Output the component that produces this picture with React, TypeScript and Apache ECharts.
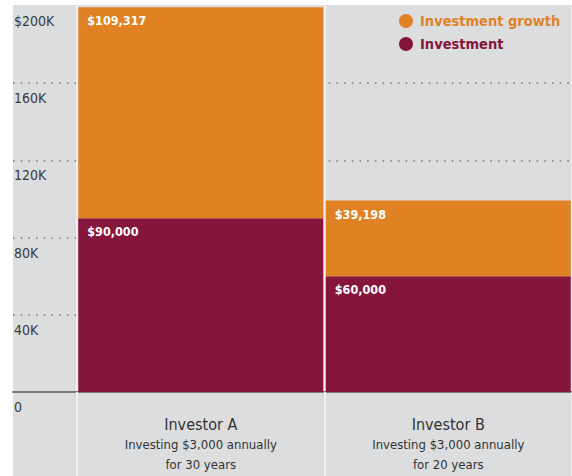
import React, { useEffect, useRef } from "react";
import * as echarts from "echarts";

const categories = ["Investor A", "Investor B"];
const subtitles = [
  ["Investing $3,000 annually", "for 30 years"],
  ["Investing $3,000 annually", "for 20 years"],
];
const investment = [90000, 60000];
const growth = [109317, 39198];
const yTickLabels: Record<number, string> = {
  0: "0",
  40000: "40K",
  80000: "80K",
  120000: "120K",
  160000: "160K",
  200000: "$200K",
};

const FONT = "'Liberation Sans Narrow', 'DejaVu Sans Condensed', 'Roboto', sans-serif";
const ORANGE = "#E08224";
const MAROON = "#85153B";
const BG = "#DCDDDF";

export default function App() {
  const ref = useRef<HTMLDivElement>(null);
  useEffect(() => {
    if (!ref.current) return;
    const chart = echarts.init(ref.current, undefined, { renderer: "svg" });
    const fmtMoney = (v: number) => "$" + v.toLocaleString("en-US");
    const barLabel = {
      show: true,
      position: [9, 7],
      verticalAlign: "top",
      color: "#fff",
      fontFamily: FONT,
      fontWeight: "bold",
      fontSize: 12.5,
      formatter: (p: any) => fmtMoney(p.value),
    };
    chart.setOption({
      animation: false,
      textStyle: { fontFamily: FONT },
      graphic: [
        {
          type: "rect",
          z: -100,
          shape: { x: 13, y: 5, width: 559, height: 471 },
          style: { fill: BG },
          silent: true,
        },
      ],
      legend: {
        orient: "vertical",
        left: 399,
        top: 13,
        padding: 0,
        itemWidth: 14,
        itemHeight: 14,
        itemGap: 7,
        icon: "circle",
        textStyle: { fontFamily: FONT, fontSize: 14.5, fontWeight: "bold", lineHeight: 16, padding: [0, 0, 0, 2] },
        data: [
          { name: "Investment growth", textStyle: { color: ORANGE } },
          { name: "Investment", textStyle: { color: MAROON } },
        ],
      },
      grid: [
        { left: 13, right: 0, top: 6, bottom: 84 },
        { left: 77, right: 0, top: 6, bottom: 84 },
      ],
      xAxis: [
        {
          gridIndex: 0,
          type: "value",
          min: 0,
          max: 1,
          axisLine: { show: true, onZero: false, lineStyle: { color: "#7a7a7a", width: 2 } },
          axisTick: { show: false },
          axisLabel: { show: false },
          splitLine: { show: false },
        },
        {
          gridIndex: 1,
          type: "category",
          data: categories,
          axisLine: { show: false },
          axisTick: { show: true, length: 84, lineStyle: { color: "#EEEEEE", width: 2 } },
          splitLine: { show: true, lineStyle: { color: "#EEEEEE", width: 2 } },
          axisLabel: {
            margin: 22,
            interval: 0,
            formatter: (v: string, i: number) =>
              `{a|${v}}\n{b|${subtitles[i][0]}}\n{b|${subtitles[i][1]}}`,
            rich: {
              a: { fontFamily: FONT, fontSize: 16, color: "#333", lineHeight: 20 },
              b: { fontFamily: FONT, fontSize: 13, color: "#333", lineHeight: 20 },
            },
          },
        },
      ],
      yAxis: [
        {
          gridIndex: 0,
          type: "value",
          min: 0,
          max: 200000,
          interval: 40000,
          axisLine: { show: false },
          axisTick: { show: false },
          axisLabel: {
            inside: true,
            margin: 1,
            align: "left",
            verticalAlign: "top",
            padding: [8, 0, 0, 0],
            fontFamily: FONT,
            fontSize: 14,
            color: "#3a3a3a",
            formatter: (v: number) => yTickLabels[v] ?? "",
          },
          splitLine: {
            show: true,
            showMaxLine: false,
            showMinLine: false,
            lineStyle: { color: "#777", width: 1.5, type: [1.5, 6.2] },
          },
        },
        {
          gridIndex: 1,
          type: "value",
          min: 0,
          max: 200000,
          interval: 40000,
          show: false,
          splitLine: { show: false },
        },
      ],
      series: [
        {
          name: "Investment",
          type: "bar",
          stack: "total",
          xAxisIndex: 1,
          yAxisIndex: 1,
          barWidth: 245,
          itemStyle: { color: MAROON },
          label: barLabel,
          data: investment,
        },
        {
          name: "Investment growth",
          type: "bar",
          stack: "total",
          xAxisIndex: 1,
          yAxisIndex: 1,
          barWidth: 245,
          itemStyle: { color: ORANGE },
          label: barLabel,
          data: growth,
        },
      ],
    });
    return () => chart.dispose();
  }, []);
  return (
    <div
      ref={ref}
      style={{ position: "fixed", left: 0, top: 0, width: 572, height: 476, background: "#fff" }}
    />
  );
}
